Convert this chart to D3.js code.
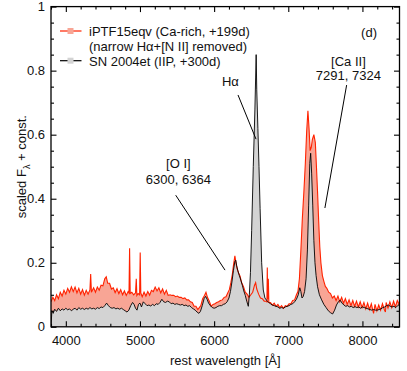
<!DOCTYPE html>
<html><head><meta charset="utf-8">
<script src="https://cdn.jsdelivr.net/npm/d3@7"></script>
<style>
body{margin:0;background:#fff;}
text{font-family:"Liberation Sans",Arial,Helvetica,sans-serif;fill:#111;}
</style></head>
<body><svg id="c" width="407" height="371"></svg>
<script>
// iPTF15eqv (Ca-rich, +199d): [wavelength Å, scaled flux]
const redSpec = [
[3800,.078],[3825,.092],[3850,.082],[3875,.100],[3900,.088],[3925,.108],[3950,.096],[3975,.114],
[4000,.102],[4025,.120],[4050,.108],[4075,.125],[4100,.110],[4125,.124],[4150,.106],[4175,.120],
[4200,.102],[4225,.116],[4250,.099],[4275,.114],[4300,.102],[4325,.115],[4335,.165],[4345,.108],
[4375,.122],[4400,.108],[4425,.124],[4450,.114],[4475,.130],[4500,.128],[4525,.150],[4545,.156],
[4565,.136],[4590,.136],[4615,.118],[4640,.122],[4665,.107],[4690,.119],[4715,.104],[4740,.116],
[4765,.100],[4790,.112],[4815,.098],[4840,.110],[4852,.106],[4860,.245],[4868,.104],[4890,.108],
[4915,.100],[4940,.106],[4950,.150],[4958,.098],[4975,.104],[4995,.100],[5003,.232],[5011,.106],
[5030,.094],[5055,.108],[5080,.096],[5105,.110],[5130,.099],[5155,.114],[5180,.110],[5205,.124],
[5230,.112],[5255,.122],[5280,.106],[5305,.118],[5330,.102],[5355,.114],[5380,.098],[5405,.100],
[5430,.098],[5455,.098],[5480,.094],[5505,.096],[5530,.092],[5555,.092],[5580,.088],[5605,.090],
[5630,.084],[5655,.084],[5680,.078],[5705,.076],[5730,.064],[5755,.064],[5780,.054],[5800,.060],
[5820,.066],[5845,.088],[5870,.098],[5890,.108],[5910,.092],[5935,.080],[5960,.064],[5985,.070],
[6010,.072],[6035,.076],[6060,.078],[6085,.082],[6110,.084],[6135,.092],[6160,.094],[6185,.106],
[6205,.116],[6225,.137],[6245,.163],[6262,.194],[6280,.222],[6295,.198],[6310,.182],[6330,.168],
[6350,.158],[6370,.138],[6395,.126],[6420,.108],[6445,.102],[6470,.092],[6495,.100],[6520,.108],
[6545,.130],[6560,.138],[6575,.118],[6600,.102],[6625,.090],[6650,.088],[6675,.080],[6700,.080],
[6712,.078],[6717,.185],[6722,.086],[6731,.150],[6738,.076],[6760,.076],[6785,.068],[6810,.074],
[6835,.064],[6860,.070],[6885,.060],[6910,.066],[6935,.058],[6960,.066],[6985,.064],[7010,.072],
[7035,.072],[7060,.082],[7085,.084],[7110,.100],[7130,.110],[7150,.150],[7170,.240],[7190,.340],
[7210,.420],[7230,.510],[7248,.610],[7265,.675],[7280,.620],[7295,.550],[7310,.560],[7325,.585],
[7345,.600],[7365,.575],[7380,.500],[7395,.420],[7410,.330],[7425,.250],[7440,.200],[7460,.160],
[7480,.142],[7500,.126],[7520,.120],[7545,.108],[7570,.104],[7595,.090],[7620,.096],[7645,.082],
[7670,.096],[7695,.078],[7720,.092],[7745,.074],[7770,.088],[7795,.070],[7820,.084],[7845,.066],
[7870,.082],[7895,.064],[7920,.080],[7945,.062],[7970,.078],[7995,.060],[8020,.076],[8045,.056],
[8070,.074],[8095,.054],[8120,.072],[8150,.042],[8170,.070],[8195,.050],[8220,.068],[8245,.052],
[8270,.072],[8295,.054],[8310,.046],[8320,.076],[8345,.058],[8370,.078],[8395,.060],[8420,.080],
[8445,.062],[8470,.082],[8500,.068]
];
// SN 2004et (IIP, +300d)
const blackSpec = [
[3800,.000],[3812,.050],[3830,.042],[3850,.055],[3875,.048],[3900,.058],[3925,.050],[3950,.056],
[3975,.052],[4000,.058],[4025,.053],[4050,.056],[4075,.050],[4100,.055],[4125,.058],[4150,.052],
[4175,.060],[4200,.055],[4225,.058],[4250,.054],[4275,.058],[4300,.055],[4325,.060],[4350,.056],
[4375,.058],[4400,.055],[4425,.060],[4450,.057],[4475,.062],[4500,.060],[4525,.066],[4550,.074],
[4575,.066],[4600,.060],[4625,.058],[4650,.060],[4675,.056],[4700,.058],[4725,.055],[4750,.058],
[4775,.054],[4800,.050],[4825,.046],[4850,.052],[4875,.066],[4900,.076],[4920,.070],[4940,.058],
[4960,.052],[4980,.070],[5000,.074],[5020,.062],[5045,.078],[5070,.072],[5095,.066],[5120,.068],
[5145,.065],[5170,.070],[5195,.066],[5220,.072],[5245,.070],[5270,.076],[5295,.086],[5320,.078],
[5345,.076],[5370,.080],[5395,.078],[5420,.072],[5445,.074],[5470,.070],[5495,.072],[5520,.070],
[5545,.068],[5570,.070],[5595,.066],[5620,.068],[5645,.064],[5670,.066],[5695,.060],[5720,.056],
[5745,.052],[5770,.046],[5795,.042],[5815,.048],[5840,.066],[5865,.088],[5885,.095],[5905,.086],
[5925,.074],[5950,.066],[5975,.060],[6000,.058],[6025,.060],[6050,.064],[6075,.066],[6100,.066],
[6125,.070],[6150,.072],[6175,.078],[6200,.090],[6220,.110],[6240,.140],[6260,.175],[6280,.204],
[6292,.208],[6305,.190],[6320,.175],[6340,.160],[6360,.146],[6380,.130],[6400,.112],[6420,.098],
[6440,.080],[6461,.064],[6475,.100],[6490,.170],[6506,.300],[6528,.500],[6550,.680],[6560,.780],
[6567,.850],[6575,.740],[6590,.620],[6605,.500],[6620,.370],[6641,.200],[6663,.115],[6685,.090],
[6710,.082],[6735,.076],[6760,.072],[6785,.068],[6810,.066],[6835,.064],[6860,.062],[6885,.058],
[6910,.060],[6935,.058],[6960,.062],[6985,.064],[7010,.066],[7035,.070],[7060,.072],[7085,.078],
[7110,.086],[7135,.100],[7155,.122],[7170,.110],[7185,.090],[7200,.094],[7220,.110],[7240,.150],
[7258,.240],[7275,.380],[7290,.510],[7302,.542],[7315,.480],[7330,.380],[7345,.270],[7360,.200],
[7375,.160],[7395,.125],[7420,.100],[7450,.084],[7480,.070],[7510,.060],[7540,.050],[7570,.044],
[7598,.040],[7625,.052],[7650,.068],[7675,.078],[7700,.083],[7725,.074],[7750,.068],[7775,.064],
[7800,.066],[7825,.062],[7850,.064],[7875,.060],[7900,.063],[7925,.060],[7950,.062],[7975,.058],
[8000,.062],[8025,.060],[8050,.058],[8075,.056],[8100,.054],[8125,.052],[8150,.054],[8175,.052],
[8200,.052],[8225,.054],[8250,.056],[8275,.060],[8300,.062],[8325,.066],[8350,.068],[8375,.064],
[8400,.062],[8425,.064],[8450,.060],[8475,.066],[8500,.070]
];
const xTicks = [4000,5000,6000,7000,8000];
const yTicks = [0,0.2,0.4,0.6,0.8,1];
const legendLabels = ["iPTF15eqv (Ca-rich, +199d)","(narrow H\u03b1+[N II] removed)","SN 2004et (IIP, +300d)"];
// annotations: label lines and pointer segments in data units
const annoLabels = [
  {lines:["H\u03b1"], x:6220, y:[0.752]},
  {lines:["[O I]","6300, 6364"], x:5518, y:[0.496,0.446]},
  {lines:["[Ca II]","7291, 7324"], x:7811, y:[0.814,0.770]}
];
const annoLines = [
  [[6322,0.724],[6565,0.586]],
  [[5482,0.411],[6147,0.177]],
  [[7787,0.755],[7494,0.371]]
];

const RED="#ff2200", SALMON="#f8a595", GRAY="#d3d3d3";
const L=51, R=399.5, T=6.6, B=326.8;
const svg=d3.select("#c");
const x=d3.scaleLinear().domain([3800,8500]).range([L,R]);
const y=d3.scaleLinear().domain([0,1]).range([B,T]);

svg.append("clipPath").attr("id","clip").append("rect").attr("x",L).attr("y",T).attr("width",R-L).attr("height",B-T);
const g=svg.append("g").attr("clip-path","url(#clip)");
const area=d3.area().x(d=>x(d[0])).y0(y(0)).y1(d=>y(d[1]));
const line=d3.line().x(d=>x(d[0])).y(d=>y(d[1]));
g.append("path").datum(redSpec).attr("d",area).attr("fill",SALMON);
g.append("path").datum(blackSpec).attr("d",area).attr("fill",GRAY);
g.append("path").datum(redSpec).attr("d",line).attr("fill","none").attr("stroke",RED).attr("stroke-width",1.1);
g.append("path").datum(blackSpec).attr("d",line).attr("fill","none").attr("stroke","#000").attr("stroke-width",0.9);

// axes
const fs=13;
const xMinor=d3.range(3800,8501,200).filter(v=>v%1000!==0);
const yMinor=d3.range(0,1.0001,0.05).filter(v=>Math.abs(v*5-Math.round(v*5))>1e-6);
function styleAxis(sel){sel.select(".domain").remove();sel.selectAll("line").attr("stroke","#000").attr("stroke-width",1.1);sel.selectAll("text").style("font-size",fs+"px").attr("fill","#111");}
svg.append("g").attr("transform",`translate(0,${B})`).call(d3.axisBottom(x).tickValues(xTicks).tickSizeInner(-5.5).tickSizeOuter(0).tickPadding(8.5).tickFormat(d3.format("d"))).call(styleAxis);
svg.append("g").attr("transform",`translate(0,${B})`).call(d3.axisBottom(x).tickValues(xMinor).tickSizeInner(-3).tickSizeOuter(0).tickFormat("")).call(styleAxis);
svg.append("g").attr("transform",`translate(0,${T})`).call(d3.axisTop(x).tickValues(xTicks).tickSizeInner(-5.5).tickSizeOuter(0).tickFormat("")).call(styleAxis);
svg.append("g").attr("transform",`translate(0,${T})`).call(d3.axisTop(x).tickValues(xMinor).tickSizeInner(-3).tickSizeOuter(0).tickFormat("")).call(styleAxis);
svg.append("g").attr("transform",`translate(${L},0)`).call(d3.axisLeft(y).tickValues(yTicks).tickSizeInner(-5.5).tickSizeOuter(0).tickPadding(6).tickFormat(d=>d3.format("~g")(d))).call(styleAxis);
svg.append("g").attr("transform",`translate(${L},0)`).call(d3.axisLeft(y).tickValues(yMinor).tickSizeInner(-3).tickSizeOuter(0).tickFormat("")).call(styleAxis);
svg.append("g").attr("transform",`translate(${R},0)`).call(d3.axisRight(y).tickValues(yTicks).tickSizeInner(-5.5).tickSizeOuter(0).tickFormat("")).call(styleAxis);
svg.append("g").attr("transform",`translate(${R},0)`).call(d3.axisRight(y).tickValues(yMinor).tickSizeInner(-3).tickSizeOuter(0).tickFormat("")).call(styleAxis);
svg.append("rect").attr("x",L).attr("y",T).attr("width",R-L).attr("height",B-T).attr("fill","none").attr("stroke","#000").attr("stroke-width",1.3);

// axis titles
svg.append("text").attr("x",(L+R)/2).attr("y",365).attr("text-anchor","middle").style("font-size",fs+"px").text("rest wavelength [\u00c5]");
const yl=svg.append("text").attr("transform",`translate(26,${(T+B)/2}) rotate(-90)`).attr("text-anchor","middle").style("font-size",fs+"px");
yl.append("tspan").text("scaled F");
yl.append("tspan").attr("dy",3.5).style("font-size","9px").text("\u03bb");
yl.append("tspan").attr("dy",-3.5).text(" + const.");

// legend
const lg=svg.append("g");
const legRows=[{y:36,color:RED,fill:SALMON},{y:65.7,color:"#000",fill:GRAY}];
legRows.forEach(r=>{
  lg.append("line").attr("x1",60).attr("x2",81.5).attr("y1",r.y-5).attr("y2",r.y-5).attr("stroke",r.color).attr("stroke-width",1.2);
  lg.append("rect").attr("x",67.5).attr("y",r.y-8).attr("width",6).attr("height",6).attr("fill",r.fill);
});
lg.append("text").attr("x",89).attr("y",36).style("font-size",fs+"px").text(legendLabels[0]);
lg.append("text").attr("x",89).attr("y",50.5).style("font-size",fs+"px").text(legendLabels[1]);
lg.append("text").attr("x",89).attr("y",65.7).style("font-size",fs+"px").text(legendLabels[2]);
svg.append("text").attr("x",377).attr("y",37).attr("text-anchor","end").style("font-size",fs+"px").text("(d)");

// annotations
annoLabels.forEach(a=>{a.lines.forEach((t,i)=>{svg.append("text").attr("x",x(a.x)).attr("y",y(a.y[i])).attr("text-anchor","middle").style("font-size",fs+"px").text(t);});});
annoLines.forEach(s=>{svg.append("line").attr("x1",x(s[0][0])).attr("y1",y(s[0][1])).attr("x2",x(s[1][0])).attr("y2",y(s[1][1])).attr("stroke","#000").attr("stroke-width",1);});
</script></body></html>
